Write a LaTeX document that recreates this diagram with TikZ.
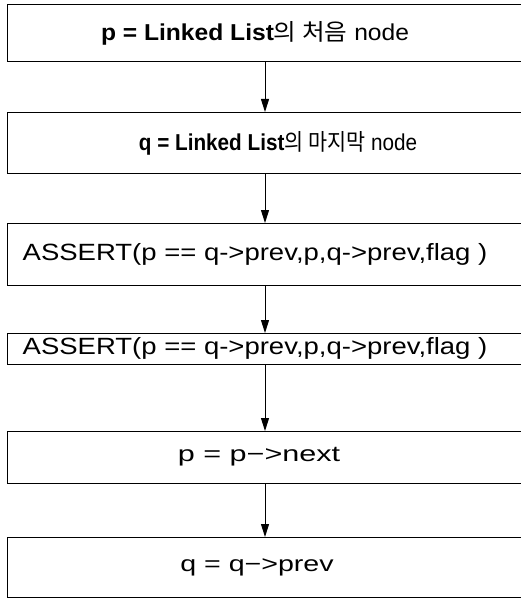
\documentclass[tikz,border=0pt]{standalone}
\usepackage{graphicx}
\usepackage{fontspec}
\setmainfont{Liberation Sans}
\newfontfamily\kr{Noto Sans CJK KR}
\usetikzlibrary{arrows.meta}
\begin{document}
\begin{tikzpicture}[x=1pt,y=-1pt,
  stepbox/.style={draw, line width=1.3pt, anchor=north west, inner sep=0pt, minimum width=540pt},
  lbl/.style={inner sep=0pt, anchor=center},
  flow/.style={line width=1pt, -{Triangle[length=13pt,width=8pt]}}]
\useasboundingbox[fill=white] (0,0) rectangle (521,599);
\clip (0,0) rectangle (521,599);
\node[stepbox, minimum height=57pt] (b1) at (7,4) {};
\node[stepbox, minimum height=61pt] (b2) at (7,112) {};
\node[stepbox, minimum height=62pt] (b3) at (7,223) {};
\node[stepbox, minimum height=31pt] (b4) at (7,333) {};
\node[stepbox, minimum height=52pt] (b5) at (7,431) {};
\node[stepbox, minimum height=60pt] (b6) at (7,537) {};
\coordinate (ax) at (265,0);
\draw[flow] (b1.south -| ax) -- (b2.north -| ax);
\draw[flow] (b2.south -| ax) -- (b3.north -| ax);
\draw[flow] (b3.south -| ax) -- (b4.north -| ax);
\draw[flow] (b4.south -| ax) -- (b5.north -| ax);
\draw[flow] (b5.south -| ax) -- (b6.north -| ax);
\node[lbl] (t1) at (255,33) {\fontsize{23}{27}\selectfont\scalebox{1.07}[1]{\textbf{p = Linked List}{\kr 의 처음} node}};
\node[lbl] (t2) at (278,143) {\fontsize{23}{27}\selectfont\scalebox{0.9}[1]{\textbf{q = Linked List}{\kr 의 마지막} node}};
\node[lbl] (t3) at (255,254) {\fontsize{23.5}{28}\selectfont\scalebox{1.17}[1]{ASSERT(p == q->prev,p,q->prev,flag )}};
\node[lbl] (t4) at (255,348.5) {\fontsize{23.5}{28}\selectfont\scalebox{1.17}[1]{ASSERT(p == q->prev,p,q->prev,flag )}};
\node[lbl] (t5) at (259,457) {\fontsize{22}{26}\selectfont\scalebox{1.39}[1]{p = p−>next}};
\node[lbl] (t6) at (257,567) {\fontsize{22}{26}\selectfont\scalebox{1.3}[1]{q = q−>prev}};
\end{tikzpicture}
\end{document}
